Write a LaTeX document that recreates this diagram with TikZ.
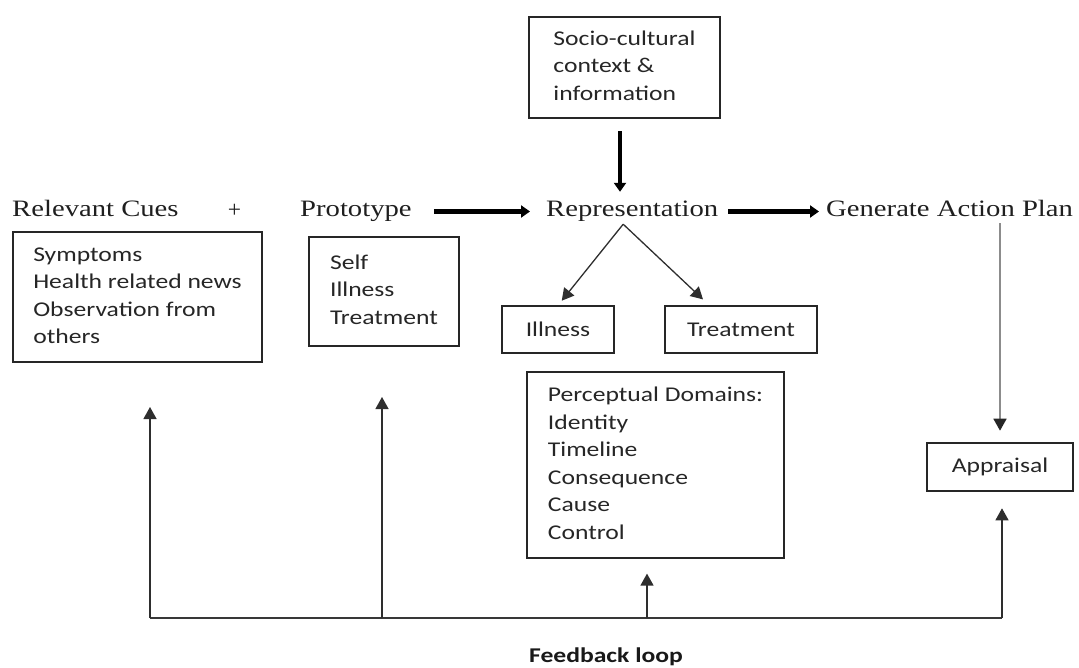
\documentclass[tikz,border=0pt]{standalone}
\usepackage{fontspec}
\setmainfont{Liberation Serif}
\newfontfamily\boxfont{Carlito}
\usetikzlibrary{arrows.meta}
\newcommand{\hs}[1]{\scalebox{1.22}[1]{#1}}
\tikzset{
  lab/.style={inner sep=0pt, font=\fontsize{23.5}{28}\selectfont, text=black!88, text height=16pt, text depth=5pt},
  wbox/.style={draw=black!85, line width=1.2pt, inner sep=0pt, font=\boxfont\fontsize{21}{27.5}\selectfont, text=black!85},
  tbox/.style={wbox, line width=2.6pt},
  thinarrow/.style={line width=1.3pt, draw=black!82, -{Triangle[width=13pt,length=12pt]}},
  grayarrow/.style={line width=1.6pt, draw=black!45, -{Triangle[width=13pt,length=12pt,color=black!85]}},
  bigarrow/.style={line width=4.6pt, draw=black, -{Triangle[width=12pt,length=9pt]}},
  fbline/.style={line width=1.4pt, draw=black!78}
}
\begin{document}
\begin{tikzpicture}[x=1pt,y=-1pt]
\useasboundingbox (0,0) rectangle (1079,668);

% top box
\node[tbox, minimum width=191, minimum height=101] (socio) at (624.5,67.5)
  {\hs{\begin{tabular}{@{}l@{}}Socio-cultural\\ context \&\\ information\end{tabular}}};

% main row labels
\node[lab, anchor=base west] (cues) at (12,217) {\hs{Relevant Cues}};
\node[inner sep=0pt, font=\fontsize{23.5}{28}\selectfont, text=black!88] (plus) at (234.5,211) {+};
\node[lab, anchor=base west] (proto) at (300,217) {\hs{Prototype}};
\node[lab, anchor=base west] (repr) at (546,217) {\hs{Representation}};
\node[lab, anchor=base west] (gen) at (826,217) {\hs{Generate Action Plan}};

% boxes
\node[wbox, minimum width=249, minimum height=130] (cuesbox) at (137.5,297)
  {\hs{\begin{tabular}{@{}l@{}}Symptoms\\ Health related news\\ Observation from\\ others\end{tabular}}};
\node[wbox, minimum width=150, minimum height=109] (protobox) at (384,291.5)
  {\hs{\begin{tabular}{@{}l@{}}Self\\ Illness\\ Treatment\end{tabular}}};
\node[wbox, minimum width=112, minimum height=47] (illbox) at (558,329.5) {\hs{Illness}\hspace{14pt}};
\node[wbox, minimum width=152, minimum height=47] (treatbox) at (741,329.5) {\hs{Treatment}\hspace{3pt}};
\node[wbox, minimum width=257, minimum height=186] (percbox) at (655.5,465)
  {\hs{\begin{tabular}{@{}l@{}}Perceptual Domains:\\ Identity\\ Timeline\\ Consequence\\ Cause\\ Control\end{tabular}}};
\node[tbox, minimum width=146, minimum height=48] (apprbox) at (1000,467) {\hs{Appraisal}};

% feedback label
\node[inner sep=0pt, font=\boxfont\bfseries\fontsize{21}{25}\selectfont, text=black!90] (fb) at (606,657) {\hs{Feedback loop}};

% thick arrows
\draw[bigarrow, shorten <=22pt, shorten >=16pt] (proto.east) -- (repr.west);
\draw[bigarrow, shorten <=10pt, shorten >=7pt] (repr.east) -- (gen.west);
\draw[bigarrow, shorten <=12pt, shorten >=9pt] ([xshift=-4.5pt]socio.south) -- ([xshift=-4.5pt]socio.south |- repr.north);

% fork
\coordinate (apex) at ([xshift=-9pt,yshift=-2pt]repr.south);
\draw[thinarrow, shorten >=6pt] (apex) -- (illbox.north);
\draw[thinarrow] (apex) -- ([xshift=-38pt,yshift=6pt]treatbox.north);

% action plan to appraisal
\draw[grayarrow, shorten <=1pt, shorten >=11pt] (gen.south -| apprbox.north) -- (apprbox.north);

% feedback loop
\coordinate (fbL) at (150,618);
\coordinate (fbR) at (1002,618);
\coordinate (b2) at (382,618);
\coordinate (b3) at (647,618);
\coordinate (t1) at (150,407);
\coordinate (t2) at (382,397);
\draw[fbline] (fbL) -- (fbR);
\draw[thinarrow] (fbL) -- (t1);
\draw[thinarrow] (b2) -- (t2);
\draw[thinarrow, shorten >=15pt] (b3) -- ([xshift=-8.5pt]percbox.south);
\draw[thinarrow, shorten >=16pt] (fbR) -- ([xshift=2pt]apprbox.south);
\end{tikzpicture}
\end{document}
